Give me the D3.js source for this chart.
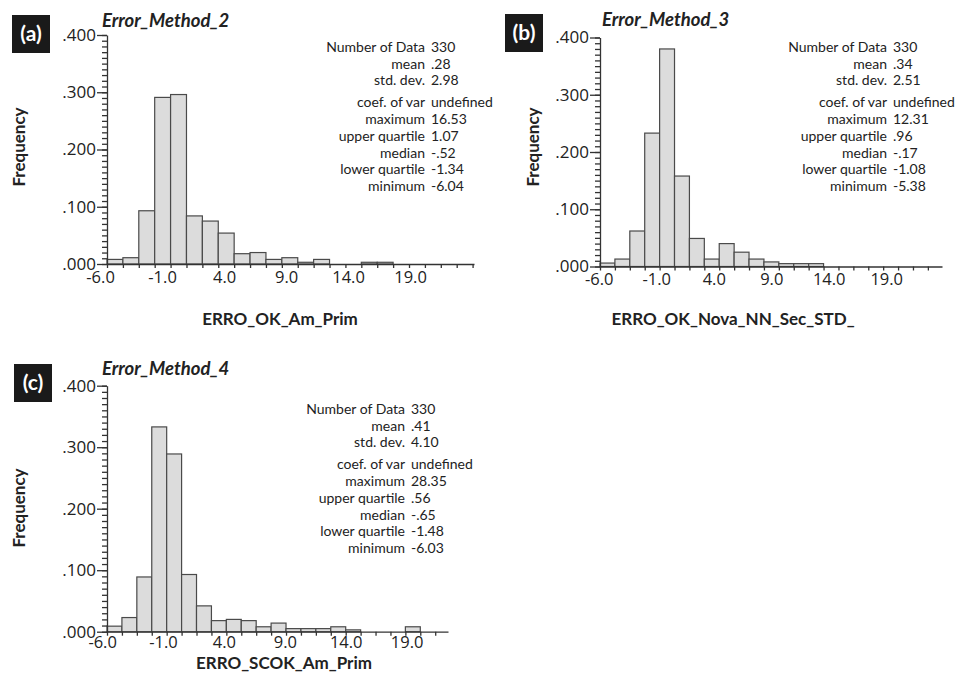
<!DOCTYPE html>
<html>
<head>
<meta charset="utf-8">
<script src="https://cdn.jsdelivr.net/npm/d3@7"></script>
<style>
body { margin: 0; background: #fff; }
text { font-family: Lato, "Open Sans", sans-serif; fill: #222; }
</style>
</head>
<body>
<div id="chart"></div>
<script>
const w = 959;
const h = 687;

// shared axis labels
const xTickValues = [-6, -1, 4, 9, 14, 19];
const yTickValues = [0, .1, .2, .3, .4];
const statLabels = ["Number of Data", "mean", "std. dev.", "coef. of var", "maximum",
	"upper quartile", "median", "lower quartile", "minimum"];

// (a) Error_Method_2
const freqA = [.008, .011, .093, .291, .296, .084, .075, .054, .018, .020, .008, .011, .003, .008, 0, 0, .003, .003];
const binStartA = -5.44;
const binWidthA = 1.282;
const xDomainA = [-5.44, 24.16];
const statsA = ["330", ".28", "2.98", "undefined", "16.53", "1.07", "-.52", "-1.34", "-6.04"];

// (b) Error_Method_3
const freqB = [.006, .013, .062, .233, .380, .158, .049, .013, .040, .025, .013, .008, .005, .005, .005];
const binStartB = -5.89;
const binWidthB = 1.296;
const xDomainB = [-5.89, 23.85];
const statsB = ["330", ".34", "2.51", "undefined", "12.31", ".96", "-.17", "-1.08", "-5.38"];

// (c) Error_Method_4
const freqC = [.009, .023, .089, .333, .289, .093, .042, .018, .020, .018, .008, .014, .005, .005, .005, .008, .003, 0, 0, 0, .008];
const binStartC = -5.6;
const binWidthC = 1.225;
const xDomainC = [-5.6, 22.4];
const statsC = ["330", ".41", "4.10", "undefined", "28.35", ".56", "-.65", "-1.48", "-6.03"];

const rowOffsets = [0, 17, 33, 55, 72, 89, 106, 122, 139];

let svg = d3.select('#chart')
	.append('svg')
		.attr('width', w)
		.attr('height', h);

const panels = [
	{tag: "(a)", title: "Error_Method_2", xTitle: "ERRO_OK_Am_Prim",
		freq: freqA, binStart: binStartA, binWidth: binWidthA, xDomain: xDomainA, stats: statsA,
		left: 107, right: 474, top: 35, bottom: 264, tickPad: 7.5,
		tagX: 12, tagY: 15, titleX: 102, titleY: 21, freqX: 19, freqY: 147,
		xTitleX: 280, xTitleY: 319, statX: 425, statY: 47},
	{tag: "(b)", title: "Error_Method_3", xTitle: "ERRO_OK_Nova_NN_Sec_STD_",
		freq: freqB, binStart: binStartB, binWidth: binWidthB, xDomain: xDomainB, stats: statsB,
		left: 600, right: 942, top: 37.5, bottom: 266.5, tickPad: 6.5,
		tagX: 505, tagY: 14, titleX: 602, titleY: 20, freqX: 533, freqY: 147,
		xTitleX: 733, xTitleY: 319, statX: 887, statY: 47},
	{tag: "(c)", title: "Error_Method_4", xTitle: "ERRO_SCOK_Am_Prim",
		freq: freqC, binStart: binStartC, binWidth: binWidthC, xDomain: xDomainC, stats: statsC,
		left: 107, right: 448, top: 385.7, bottom: 631.7, tickPad: 5,
		tagX: 14, tagY: 364, titleX: 102, titleY: 369, freqX: 19, freqY: 508,
		xTitleX: 284, xTitleY: 663, statX: 405, statY: 409}
];

panels.forEach(drawPanel);

function drawPanel(p) {
	let g = svg.append("g");

	let xScale = d3.scaleLinear().domain(p.xDomain).range([p.left, p.right]);
	let yScale = d3.scaleLinear().domain([0, .4]).range([p.bottom, p.top]);

	// bars
	g.selectAll("rect.bar")
		.data(p.freq.map((f, i) => ({f: f, i: i})).filter((d) => d.f > 0))
		.enter()
		.append("rect")
		.attr("class", "bar")
		.attr("x", (d) => xScale(p.binStart + d.i * p.binWidth))
		.attr("y", (d) => yScale(d.f))
		.attr("width", (d) => xScale(p.binStart + (d.i + 1) * p.binWidth) - xScale(p.binStart + d.i * p.binWidth))
		.attr("height", (d) => yScale(0) - yScale(d.f))
		.attr("fill", "#dcdcdc")
		.attr("stroke", "#4a4a4a")
		.attr("stroke-width", 1.2);

	// y axis: minor + major ticks
	g.append("g")
		.attr("transform", "translate(" + p.left + ",0)")
		.call(d3.axisLeft(yScale).tickValues(d3.range(0, 41).map((k) => k / 100)).tickSize(5).tickSizeOuter(0).tickFormat(""))
		.call((a) => a.selectAll("line, path").attr("stroke", "#333").attr("stroke-width", 1.3));

	g.append("g")
		.attr("transform", "translate(" + p.left + ",0)")
		.call(d3.axisLeft(yScale).tickValues(yTickValues).tickSize(10).tickPadding(1)
			.tickFormat((d) => d.toFixed(3).replace(/^0/, "")))
		.call((a) => a.select(".domain").remove())
		.call((a) => a.selectAll("line").attr("stroke", "#333").attr("stroke-width", 1.3))
		.call((a) => a.selectAll("text").style("font-family", "'Open Sans'").style("font-size", "17px").attr("fill", "#222"));

	// x axis: bin-edge ticks + labels
	let edges = d3.range(0, 40).map((k) => p.binStart + k * p.binWidth).filter((v) => v <= p.xDomain[1]);
	g.append("g")
		.attr("transform", "translate(0," + p.bottom + ")")
		.call(d3.axisBottom(xScale).tickValues(edges).tickSize(4).tickSizeOuter(0).tickFormat(""))
		.call((a) => a.selectAll("line, path").attr("stroke", "#333").attr("stroke-width", 1.3));

	g.append("g")
		.attr("transform", "translate(0," + p.bottom + ")")
		.call(d3.axisBottom(xScale).tickValues(xTickValues).tickSize(0).tickPadding(p.tickPad).tickFormat((d) => d.toFixed(1)))
		.call((a) => a.select(".domain").remove())
		.call((a) => a.selectAll("text").style("font-family", "'Open Sans'").style("font-size", "16.5px").attr("fill", "#222"));

	// tag box
	g.append("rect")
		.attr("x", p.tagX).attr("y", p.tagY)
		.attr("width", 38).attr("height", 38)
		.attr("fill", "#1a1a1a");
	g.append("text")
		.attr("x", p.tagX + 19).attr("y", p.tagY + 26)
		.attr("text-anchor", "middle")
		.style("font-size", "21px").style("font-weight", "bold")
		.style("fill", "#fff")
		.text(p.tag);

	// titles
	g.append("text")
		.attr("x", p.titleX).attr("y", p.titleY + 6)
		.style("font-size", "18.5px").style("font-weight", "bold").style("font-style", "italic")
		.text(p.title);

	g.append("text")
		.attr("transform", "translate(" + (p.freqX + 6) + "," + p.freqY + ") rotate(-90)")
		.attr("text-anchor", "middle")
		.style("font-size", "17px").style("font-weight", "bold")
		.text("Frequency");

	g.append("text")
		.attr("x", p.xTitleX).attr("y", p.xTitleY + 6)
		.attr("text-anchor", "middle")
		.style("font-size", "17px").style("font-weight", "bold")
		.text(p.xTitle);

	// stats block
	statLabels.forEach((lab, i) => {
		g.append("text")
			.attr("x", p.statX).attr("y", p.statY + rowOffsets[i] + 5)
			.attr("text-anchor", "end")
			.style("font-size", "14px")
			.text(lab);
		g.append("text")
			.attr("x", p.statX + 6).attr("y", p.statY + rowOffsets[i] + 5)
			.style("font-size", "14px")
			.text(p.stats[i]);
	});
}
</script>
</body>
</html>
